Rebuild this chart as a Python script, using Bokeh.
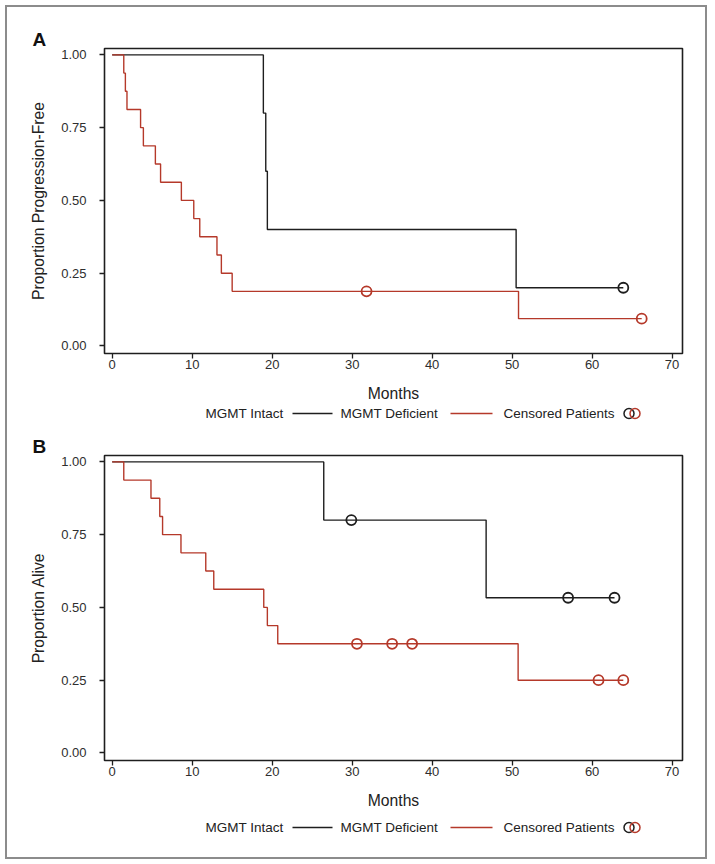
from bokeh.plotting import figure
from bokeh.layouts import column
from bokeh.models import Range1d, FixedTicker, Title
from bokeh.embed import file_html
from bokeh.resources import INLINE

# ---------------- data ----------------
x_ticks = [0, 10, 20, 30, 40, 50, 60, 70]
y_ticks = [0.0, 0.25, 0.5, 0.75, 1.0]
y_tick_labels = ["0.00", "0.25", "0.50", "0.75", "1.00"]

# Panel A: progression-free
A_intact_time = [0, 18.9, 19.2, 19.4, 50.5, 63.9]
A_intact_surv = [1.0, 0.8, 0.6, 0.4, 0.2, 0.2]
A_intact_cens_time = [63.9]
A_intact_cens_surv = [0.2]

A_def_time = [0, 1.45, 1.65, 1.85, 3.55, 3.9, 5.4, 6.05, 8.65, 10.2, 10.95, 13.1, 13.65, 15.0, 50.8, 66.2]
A_def_surv = [1.0, 0.9375, 0.875, 0.8125, 0.75, 0.6875, 0.625, 0.5625, 0.5, 0.4375, 0.375,
              0.3125, 0.25, 0.1875, 0.09375, 0.09375]
A_def_cens_time = [31.8, 66.2]
A_def_cens_surv = [0.1875, 0.09375]

# Panel B: overall survival
B_intact_time = [0, 26.45, 46.75, 62.8]
B_intact_surv = [1.0, 0.8, 0.5333, 0.5333]
B_intact_cens_time = [29.9, 57.0, 62.8]
B_intact_cens_surv = [0.8, 0.5333, 0.5333]

B_def_time = [0, 1.45, 4.85, 5.95, 6.3, 8.6, 11.7, 12.7, 18.95, 19.4, 20.7, 50.75, 63.9]
B_def_surv = [1.0, 0.9375, 0.875, 0.8125, 0.75, 0.6875, 0.625, 0.5625, 0.5, 0.4375, 0.375, 0.25, 0.25]
B_def_cens_time = [30.6, 35.0, 37.5, 60.8, 63.9]
B_def_cens_surv = [0.375, 0.375, 0.375, 0.25, 0.25]

legend_labels = ["MGMT Intact", "MGMT Deficient", "Censored Patients"]

# ---------------- style ----------------
BLACK = "#1e1e1e"
RED = "#b5392a"
FONT = "Liberation Sans"
W = 698
ORIGIN = 7                 # page offset of the layout
FRAME_L, FRAME_R = 104, 682  # page x of the plot frames


def km_panel(height, border_top, border_bottom, ylabel, letter,
             it, isv, ict, ics, dt, dsv, dct, dcs):
    p = figure(width=W, height=height, output_backend="svg", toolbar_location=None,
               x_range=Range1d(-0.96, 71.3), y_range=Range1d(-0.026, 1.022),
               min_border_left=FRAME_L - ORIGIN, min_border_right=W + ORIGIN - FRAME_R,
               min_border_top=border_top, min_border_bottom=border_bottom)
    p.grid.visible = False
    p.outline_line_color = BLACK
    p.outline_line_width = 1.6
    p.outline_line_alpha = 1.0

    p.title = Title(text=letter, align="left", offset=-72, standoff=-3,
                    text_font=FONT, text_font_size="19px", text_font_style="bold",
                    text_color="#111111", vertical_align="bottom")

    for ax in (p.xaxis[0], p.yaxis[0]):
        ax.axis_line_color = None
        ax.major_tick_out = 5
        ax.major_tick_in = 0
        ax.major_tick_line_color = BLACK
        ax.major_tick_line_width = 1.3
        ax.minor_tick_line_color = None
        ax.major_label_text_font = FONT
        ax.major_label_text_font_size = "13px"
        ax.major_label_text_color = "#2e2e2e"
        ax.axis_label_text_font = FONT
        ax.axis_label_text_font_size = "15.7px"
        ax.axis_label_text_font_style = "normal"
        ax.axis_label_text_color = "#222222"

    p.xaxis.ticker = FixedTicker(ticks=x_ticks)
    p.xaxis.axis_label = "Months"
    p.xaxis.major_label_standoff = 1
    p.xaxis.axis_label_standoff = 13

    p.yaxis.ticker = FixedTicker(ticks=y_ticks)
    p.yaxis.major_label_overrides = {t: s for t, s in zip(y_ticks, y_tick_labels)}
    p.yaxis.axis_label = ylabel
    p.yaxis.major_label_standoff = 13
    p.yaxis.axis_label_standoff = 11

    p.step(it, isv, mode="after", line_color=BLACK, line_width=1.4)
    p.step(dt, dsv, mode="after", line_color=RED, line_width=1.4)
    p.scatter(ict, ics, marker="circle", size=10, fill_color=None,
              line_color=BLACK, line_width=1.8)
    p.scatter(dct, dcs, marker="circle", size=10, fill_color=None,
              line_color=RED, line_width=1.8)
    return p


def legend_fig(height, yc):
    # frame of this strip is aligned with the plot frames above it,
    # so x is expressed in page pixels over the frame span
    lf = figure(width=W, height=height, output_backend="svg", toolbar_location=None,
                x_range=Range1d(FRAME_L, FRAME_R), y_range=Range1d(0, height),
                x_axis_location=None, y_axis_location=None,
                min_border_left=FRAME_L - ORIGIN, min_border_right=W + ORIGIN - FRAME_R,
                min_border_top=0, min_border_bottom=0)
    lf.grid.visible = False
    lf.outline_line_color = None
    y = height - yc
    lf.text(x=[205, 340, 503], y=[y, y, y], text=legend_labels,
            text_font={"value": FONT}, text_font_size="13.5px",
            text_color="#222222", text_baseline="middle", text_align="left")
    lf.segment(x0=[292], y0=[y], x1=[332], y1=[y], line_color=BLACK, line_width=1.4)
    lf.segment(x0=[450], y0=[y], x1=[492], y1=[y], line_color=RED, line_width=1.4)
    lf.scatter(x=[628.5], y=[y], marker="circle", size=10, fill_color=None,
               line_color=BLACK, line_width=1.5)
    lf.scatter(x=[634.5], y=[y], marker="circle", size=10, fill_color=None,
               line_color=RED, line_width=1.5)
    return lf


pA = km_panel(398, 41, 52, "Proportion Progression-Free", "A",
              A_intact_time, A_intact_surv, A_intact_cens_time, A_intact_cens_surv,
              A_def_time, A_def_surv, A_def_cens_time, A_def_cens_surv)
legA = legend_fig(20, 8)
pB = km_panel(387, 30, 52, "Proportion Alive", "B",
              B_intact_time, B_intact_surv, B_intact_cens_time, B_intact_cens_surv,
              B_def_time, B_def_surv, B_def_cens_time, B_def_cens_surv)
legB = legend_fig(45, 15)

layout = column(pA, legA, pB, legB, spacing=0,
                styles={"outline": "2px solid #8c8c8c", "outline-offset": "0px",
                        "margin": f"{ORIGIN}px 0 0 {ORIGIN}px"})

open("out.html", "w").write(file_html(layout, INLINE))
